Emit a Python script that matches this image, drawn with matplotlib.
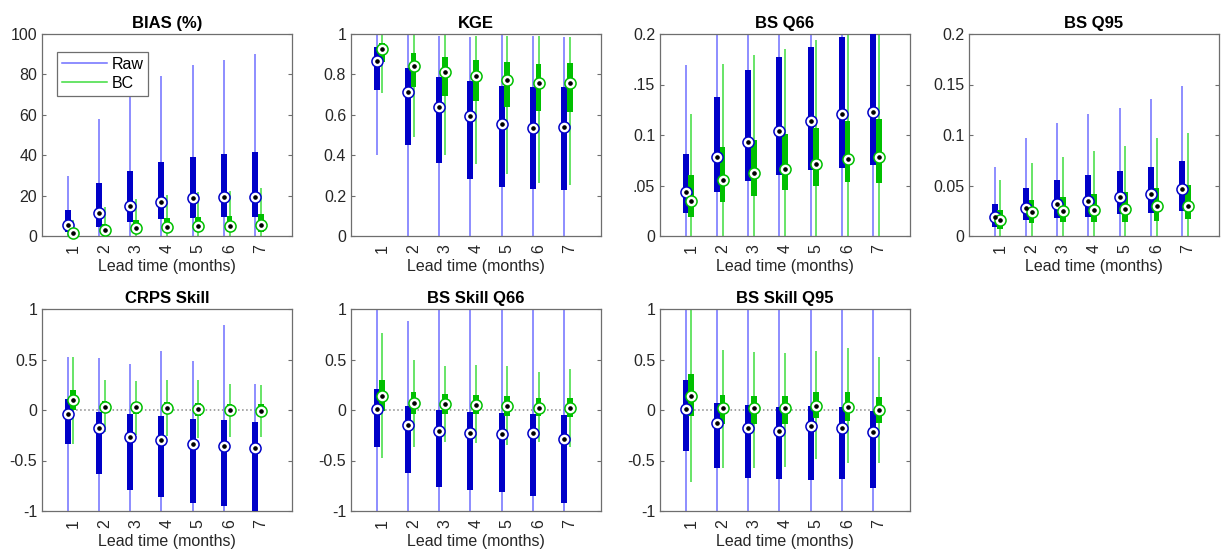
import numpy as np
import matplotlib
matplotlib.use("Agg")
import matplotlib.pyplot as plt

plt.rcParams['font.family'] = ['Liberation Sans', 'DejaVu Sans']

leads = [1, 2, 3, 4, 5, 6, 7]

# each row: [whisker low, q25, median, q75, whisker high] per lead time
bias_raw = [[0, 2.0, 5.5, 12.9, 29.8],
            [0, 4.6, 11.2, 26.1, 57.9],
            [0, 7.1, 14.9, 32.4, 72.0],
            [0, 8.3, 17.0, 36.5, 79.3],
            [0, 8.8, 18.7, 39.3, 84.8],
            [0, 9.3, 19.5, 40.5, 87.3],
            [0, 9.3, 19.5, 41.8, 90.1]]
bias_bc = [[0, 0.5, 1.3, 3.5, 7.9],
           [0, 1.0, 3.0, 6.0, 14.2],
           [0, 1.5, 3.8, 7.9, 18.2],
           [0, 2.0, 4.3, 8.8, 20.3],
           [0, 2.0, 5.0, 9.6, 22.0],
           [0, 2.0, 5.1, 9.9, 22.5],
           [0, 2.2, 5.5, 10.7, 23.6]]

kge_raw = [[0.40, 0.724, 0.868, 0.936, 1.0],
           [-0.2, 0.451, 0.711, 0.831, 1.0],
           [-0.2, 0.360, 0.638, 0.787, 0.99],
           [-0.2, 0.283, 0.595, 0.765, 0.985],
           [-0.2, 0.241, 0.555, 0.744, 1.0],
           [-0.2, 0.231, 0.537, 0.737, 0.99],
           [-0.2, 0.228, 0.540, 0.737, 0.985]]
kge_bc = [[0.71, 0.86, 0.927, 0.955, 1.0],
          [0.489, 0.737, 0.840, 0.906, 1.0],
          [0.402, 0.691, 0.810, 0.884, 1.0],
          [0.354, 0.666, 0.790, 0.869, 0.99],
          [0.309, 0.638, 0.770, 0.860, 0.99],
          [0.264, 0.620, 0.757, 0.853, 0.99],
          [0.253, 0.613, 0.757, 0.856, 0.983]]

bsq66_raw = [[0, 0.023, 0.044, 0.081, 0.169],
             [0, 0.044, 0.078, 0.138, 0.23],
             [0, 0.054, 0.093, 0.164, 0.26],
             [0, 0.060, 0.104, 0.177, 0.28],
             [0, 0.065, 0.114, 0.187, 0.30],
             [0, 0.067, 0.121, 0.197, 0.31],
             [0, 0.070, 0.123, 0.210, 0.33]]
bsq66_bc = [[0, 0.019, 0.035, 0.060, 0.121],
            [0, 0.034, 0.055, 0.088, 0.170],
            [0, 0.040, 0.062, 0.095, 0.179],
            [0, 0.046, 0.066, 0.101, 0.185],
            [0, 0.050, 0.071, 0.107, 0.194],
            [0, 0.053, 0.076, 0.114, 0.205],
            [0, 0.052, 0.078, 0.116, 0.215]]

bsq95_raw = [[0, 0.009, 0.0185, 0.032, 0.068],
             [0, 0.016, 0.028, 0.048, 0.097],
             [0, 0.0175, 0.032, 0.055, 0.112],
             [0, 0.0185, 0.035, 0.060, 0.121],
             [0, 0.0215, 0.039, 0.064, 0.127],
             [0, 0.023, 0.042, 0.068, 0.136],
             [0, 0.025, 0.047, 0.074, 0.149]]
bsq95_bc = [[0, 0.0066, 0.016, 0.026, 0.055],
            [0, 0.013, 0.0235, 0.036, 0.072],
            [0, 0.014, 0.025, 0.039, 0.078],
            [0, 0.014, 0.026, 0.042, 0.084],
            [0, 0.014, 0.027, 0.044, 0.089],
            [0, 0.015, 0.030, 0.048, 0.097],
            [0, 0.0165, 0.030, 0.050, 0.102]]

crps_raw = [[-1.2, -0.339, -0.038, 0.111, 0.524],
            [-1.2, -0.633, -0.180, -0.015, 0.514],
            [-1.2, -0.792, -0.263, -0.041, 0.458],
            [-1.2, -0.858, -0.299, -0.058, 0.580],
            [-1.2, -0.917, -0.336, -0.088, 0.481],
            [-1.2, -0.947, -0.352, -0.097, 0.845],
            [-1.3, -1.05, -0.372, -0.114, 0.26]]
crps_bc = [[-0.336, 0.002, 0.10, 0.20, 0.524],
           [-0.213, -0.031, 0.031, 0.094, 0.299],
           [-0.246, -0.038, 0.025, 0.084, 0.283],
           [-0.256, -0.038, 0.018, 0.084, 0.299],
           [-0.279, -0.055, 0.008, 0.074, 0.299],
           [-0.263, -0.064, -0.002, 0.061, 0.26],
           [-0.263, -0.071, -0.008, 0.058, 0.25]]

bss66_raw = [[-1.2, -0.362, 0.008, 0.21, 1.2],
             [-1.2, -0.620, -0.147, 0.041, 0.884],
             [-1.2, -0.759, -0.203, 0.002, 1.2],
             [-1.2, -0.792, -0.230, -0.015, 1.2],
             [-1.2, -0.815, -0.240, -0.031, 1.2],
             [-1.2, -0.851, -0.230, -0.038, 1.2],
             [-1.2, -0.924, -0.289, -0.051, 1.2]]
bss66_bc = [[-0.478, -0.005, 0.140, 0.293, 0.762],
            [-0.362, -0.041, 0.068, 0.174, 0.498],
            [-0.312, -0.038, 0.061, 0.157, 0.438],
            [-0.329, -0.041, 0.051, 0.150, 0.445],
            [-0.345, -0.055, 0.035, 0.134, 0.431],
            [-0.319, -0.064, 0.018, 0.114, 0.375],
            [-0.362, -0.071, 0.015, 0.114, 0.405]]

bss95_raw = [[-1.2, -0.402, 0.012, 0.293, 1.2],
             [-1.2, -0.570, -0.131, 0.068, 1.2],
             [-1.2, -0.676, -0.180, 0.051, 1.2],
             [-1.2, -0.686, -0.203, 0.025, 1.2],
             [-1.2, -0.693, -0.157, 0.041, 1.2],
             [-1.2, -0.686, -0.180, 0.031, 1.2],
             [-1.2, -0.769, -0.220, -0.008, 1.2]]
bss95_bc = [[-0.709, -0.064, 0.137, 0.359, 1.2],
            [-0.570, -0.137, 0.015, 0.150, 0.597],
            [-0.570, -0.141, 0.015, 0.140, 0.570],
            [-0.560, -0.141, 0.015, 0.140, 0.564],
            [-0.488, -0.081, 0.041, 0.180, 0.587],
            [-0.527, -0.104, 0.028, 0.177, 0.612],
            [-0.521, -0.130, 0.002, 0.127, 0.521]]

titles = ['BIAS (%)', 'KGE', 'BS Q66', 'BS Q95',
          'CRPS Skill', 'BS Skill Q66', 'BS Skill Q95']

yticks_bias = [0, 20, 40, 60, 80, 100]
yticks_kge = [0, 0.2, 0.4, 0.6, 0.8, 1]
yticks_bs = [0, 0.05, 0.1, 0.15, 0.2]
yticks_skill = [-1, -0.5, 0, 0.5, 1]
ylabels_bias = ['0', '20', '40', '60', '80', '100']
ylabels_kge = ['0', '0.2', '0.4', '0.6', '0.8', '1']
ylabels_q66 = ['0', '.05', '0.1', '.15', '0.2']
ylabels_q95 = ['0', '0.05', '0.1', '0.15', '0.2']
ylabels_skill = ['-1', '-0.5', '0', '0.5', '1']

RAW_BOX = '#0000c8'
RAW_WHISK = '#6f6fff'
BC_BOX = '#00c000'
BC_WHISK = '#3fdc3f'
FRAME = '#6e6e6e'
TXT = '#262626'


def draw_series(ax, stats, offset, box_col, whisk_col):
    stats = np.array(stats)
    x = np.array(leads) + offset
    ax.vlines(x, stats[:, 0], stats[:, 4], color=whisk_col, lw=1.1, zorder=2)
    ax.bar(x, stats[:, 3] - stats[:, 1], bottom=stats[:, 1], width=0.19,
           color=box_col, edgecolor='none', zorder=3)
    ax.plot(x, stats[:, 2], 'o', ms=8, mfc='white', mec=box_col, mew=1.1,
            zorder=4, clip_on=False)
    ax.plot(x, stats[:, 2], 'o', ms=2.3, color='k', zorder=5, clip_on=False)


def make_panel(ax, title, raw, bc, ylim, yticks, ylabels, zero_line=False):
    if zero_line:
        ax.plot([0.82, 7.0], [0, 0], ls=':', color='#888888', lw=1.1, zorder=1)
    draw_series(ax, raw, -0.18, RAW_BOX, RAW_WHISK)
    draw_series(ax, bc, 0.0, BC_BOX, BC_WHISK)
    ax.set_xlim(0, 8)
    ax.set_ylim(*ylim)
    ax.set_yticks(yticks)
    ax.set_yticklabels(ylabels)
    ax.set_xticks(leads)
    ax.set_xticklabels([str(l) for l in leads], rotation=90)
    ax.tick_params(axis='x', length=0, pad=6, labelsize=11.5, colors=TXT)
    ax.tick_params(axis='y', direction='in', length=3, right=True,
                   labelsize=11.5, colors=TXT, width=0.8)
    ax.tick_params(axis='y', which='both', color=FRAME)
    for s in ax.spines.values():
        s.set_color(FRAME)
        s.set_linewidth(0.9)
    ax.set_title(title, fontsize=12, fontweight='bold', color='black', pad=4)
    ax.set_xlabel('Lead time (months)', fontsize=11.5, color=TXT, labelpad=4)


fig = plt.figure(figsize=(12.24, 5.5), dpi=100)
W, H = 1224.0, 550.0
lefts = [42, 351, 660, 969]
width = 250
height = 202


def add_axes(col, top):
    return fig.add_axes([lefts[col] / W, 1 - (top + height) / H, width / W, height / H])


ax1 = add_axes(0, 34)
make_panel(ax1, titles[0], bias_raw, bias_bc, (0, 100), yticks_bias, ylabels_bias)
h_raw, = ax1.plot([], [], color=RAW_WHISK, lw=1.1, label='Raw')
h_bc, = ax1.plot([], [], color=BC_WHISK, lw=1.1, label='BC')
leg = ax1.legend(handles=[h_raw, h_bc], loc='upper left', bbox_to_anchor=(0.06, 0.91),
                 borderaxespad=0, fontsize=11.5, fancybox=False, framealpha=1,
                 edgecolor=FRAME, handlelength=2.8, borderpad=0.3,
                 labelspacing=0.25, handletextpad=0.3)
leg.get_frame().set_linewidth(0.9)
leg.set_zorder(10)

ax2 = add_axes(1, 34)
make_panel(ax2, titles[1], kge_raw, kge_bc, (0, 1), yticks_kge, ylabels_kge)
ax3 = add_axes(2, 34)
make_panel(ax3, titles[2], bsq66_raw, bsq66_bc, (0, 0.2), yticks_bs, ylabels_q66)
ax4 = add_axes(3, 34)
make_panel(ax4, titles[3], bsq95_raw, bsq95_bc, (0, 0.2), yticks_bs, ylabels_q95)

ax5 = add_axes(0, 309)
make_panel(ax5, titles[4], crps_raw, crps_bc, (-1, 1), yticks_skill, ylabels_skill, True)
ax6 = add_axes(1, 309)
make_panel(ax6, titles[5], bss66_raw, bss66_bc, (-1, 1), yticks_skill, ylabels_skill, True)
ax7 = add_axes(2, 309)
make_panel(ax7, titles[6], bss95_raw, bss95_bc, (-1, 1), yticks_skill, ylabels_skill, True)

fig.savefig('out.png', dpi=100)
